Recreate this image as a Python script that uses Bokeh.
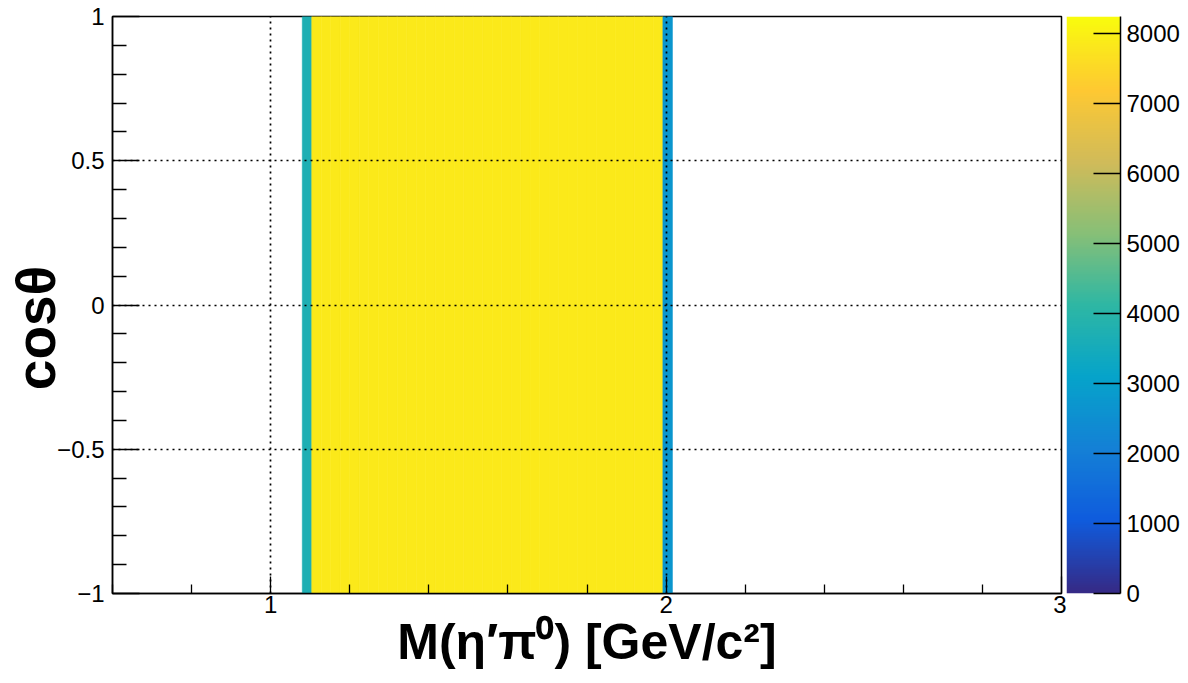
import numpy as np
from bokeh.plotting import figure
from bokeh.models import ColumnDataSource, LinearColorMapper, FixedTicker
from bokeh.transform import transform
from bokeh.layouts import row
from bokeh.embed import file_html
from bokeh.resources import INLINE

# ---------------- data ----------------
x_min, x_max = 0.6, 3.0
y_min, y_max = -1.0, 1.0
n_x_bins = 100                      # 0.6 .. 3.0, bin width 0.024
first_filled_bin = 20               # 1.080 .. 1.104
col_counts = [3700,
              7880, 7880, 7880, 7880, 7880, 7880, 7880, 7880, 7880, 7880,
              7880, 7880, 7880, 7880, 7880, 7880, 7880, 7880, 7880, 7880,
              7880, 7880, 7880, 7880, 7880, 7880, 7880, 7880, 7880, 7880,
              7880, 7880, 7880, 7880, 7880, 7880, 7880,
              2700]
z_max = 8240

x_ticks = [1, 2, 3]
x_tick_labels = ["1", "2", "3"]
x_minor = [0.6, 0.8, 1.2, 1.4, 1.6, 1.8, 2.2, 2.4, 2.6, 2.8]
y_ticks = [-1, -0.5, 0, 0.5, 1]
y_tick_labels = ["\u22121", "\u22120.5", "0", "0.5", "1"]
y_minor = [-0.9, -0.8, -0.7, -0.6, -0.4, -0.3, -0.2, -0.1,
           0.1, 0.2, 0.3, 0.4, 0.6, 0.7, 0.8, 0.9]
z_ticks = [0, 1000, 2000, 3000, 4000, 5000, 6000, 7000, 8000]

x_title = "M(\u03b7\u2032\u03c0\u2070) [GeV/c\u00b2]"
y_title = "cos\u03b8\u00a0\u00a0\u00a0"

# ---------------- ROOT kBird palette ----------------
st = [0.0, 0.125, 0.25, 0.375, 0.5, 0.625, 0.75, 0.875, 1.0]
rr = [0.2082, 0.0592, 0.0780, 0.0232, 0.1802, 0.5301, 0.8186, 0.9956, 0.9764]
gg = [0.1664, 0.3599, 0.5041, 0.6419, 0.7178, 0.7492, 0.7328, 0.7862, 0.9832]
bb = [0.5293, 0.8684, 0.8385, 0.7914, 0.6425, 0.4662, 0.3499, 0.1968, 0.0539]
tt = np.linspace(0, 1, 255)
palette = ["#%02x%02x%02x" % (int(round(np.interp(t, st, rr) * 255)),
                              int(round(np.interp(t, st, gg) * 255)),
                              int(round(np.interp(t, st, bb) * 255))) for t in tt]
mapper = LinearColorMapper(palette=palette, low=0, high=z_max)

# ---------------- histogram cells ----------------
bw = (x_max - x_min) / n_x_bins
lefts = [x_min + (first_filled_bin + i) * bw for i in range(len(col_counts))]
rights = [l + bw for l in lefts]
src = ColumnDataSource(dict(left=lefts, right=rights,
                            bottom=[y_min] * len(col_counts),
                            top=[y_max] * len(col_counts),
                            z=col_counts))

FONT = "Liberation Sans"

p = figure(width=1066, height=683, x_range=(x_min, x_max), y_range=(y_min, y_max),
           output_backend="svg", toolbar_location=None,
           min_border_left=112, min_border_right=5,
           min_border_top=16, min_border_bottom=90)
p.background_fill_color = "white"
p.border_fill_color = "white"
p.outline_line_color = "black"
p.outline_line_width = 1.5

p.quad(left="left", right="right", bottom="bottom", top="top", source=src,
       fill_color=transform("z", mapper), line_color=transform("z", mapper),
       line_width=0.6)

# axes
p.xaxis.ticker = FixedTicker(ticks=x_ticks, minor_ticks=x_minor)
p.xaxis.major_label_overrides = {t: s for t, s in zip(x_ticks, x_tick_labels)}
p.yaxis.ticker = FixedTicker(ticks=y_ticks, minor_ticks=y_minor)
p.yaxis.major_label_overrides = {t: s for t, s in zip(y_ticks, y_tick_labels)}

for ax, maj, mnr in ((p.xaxis, 17, 9), (p.yaxis, 27, 14)):
    ax.major_tick_in = maj
    ax.major_tick_out = 0
    ax.minor_tick_in = mnr
    ax.minor_tick_out = 0
    ax.axis_line_color = "black"
    ax.axis_line_width = 1.5
    ax.major_tick_line_color = "black"
    ax.major_tick_line_width = 1.3
    ax.minor_tick_line_color = "black"
    ax.minor_tick_line_width = 1.3
    ax.major_label_text_font = FONT
    ax.major_label_text_font_size = "24px"
    ax.major_label_text_color = "black"
    ax.axis_label_text_font = FONT
    ax.axis_label_text_font_style = "bold"
    ax.axis_label_text_color = "black"

p.xaxis.axis_label = x_title
p.xaxis.axis_label_text_font_size = "50px"
p.xaxis.major_label_standoff = 2
p.xaxis.axis_label_standoff = -2
p.yaxis.axis_label = y_title
p.yaxis.axis_label_text_font_size = "55px"
p.yaxis.major_label_standoff = 8
p.yaxis.axis_label_standoff = -13

# dotted grid on top
p.xgrid.ticker = FixedTicker(ticks=[1, 2])
p.ygrid.ticker = FixedTicker(ticks=[-0.5, 0, 0.5])
for g in (p.xgrid, p.ygrid):
    g.grid_line_color = "black"
    g.grid_line_dash = "2 4"
    g.grid_line_width = 1.7
    g.level = "overlay"

# ---------------- colour bar ----------------
p2 = figure(width=122, height=683, x_range=(0, 1), y_range=(0, z_max),
            output_backend="svg", toolbar_location=None, y_axis_location="right",
            min_border_left=0, min_border_right=68,
            min_border_top=16, min_border_bottom=90)
p2.outline_line_color = None
p2.grid.visible = False
p2.xaxis.visible = False
p2.border_fill_color = "white"
grad = np.linspace(0, z_max, 512).reshape(512, 1)
p2.image(image=[grad], x=0, y=0, dw=1, dh=z_max, color_mapper=mapper)
ya = p2.yaxis[0]
ya.ticker = FixedTicker(ticks=z_ticks, minor_ticks=[])
ya.major_label_overrides = {t: str(t) for t in z_ticks}
ya.major_tick_in = 27
ya.major_tick_out = 0
ya.minor_tick_line_color = None
ya.axis_line_color = "black"
ya.axis_line_width = 1.5
ya.major_tick_line_color = "black"
ya.major_tick_line_width = 1.3
ya.major_label_text_font = FONT
ya.major_label_text_font_size = "24px"
ya.major_label_text_color = "black"
ya.major_label_standoff = 6

layout = row(p, p2)
open("out.html", "w").write(file_html(layout, INLINE))
